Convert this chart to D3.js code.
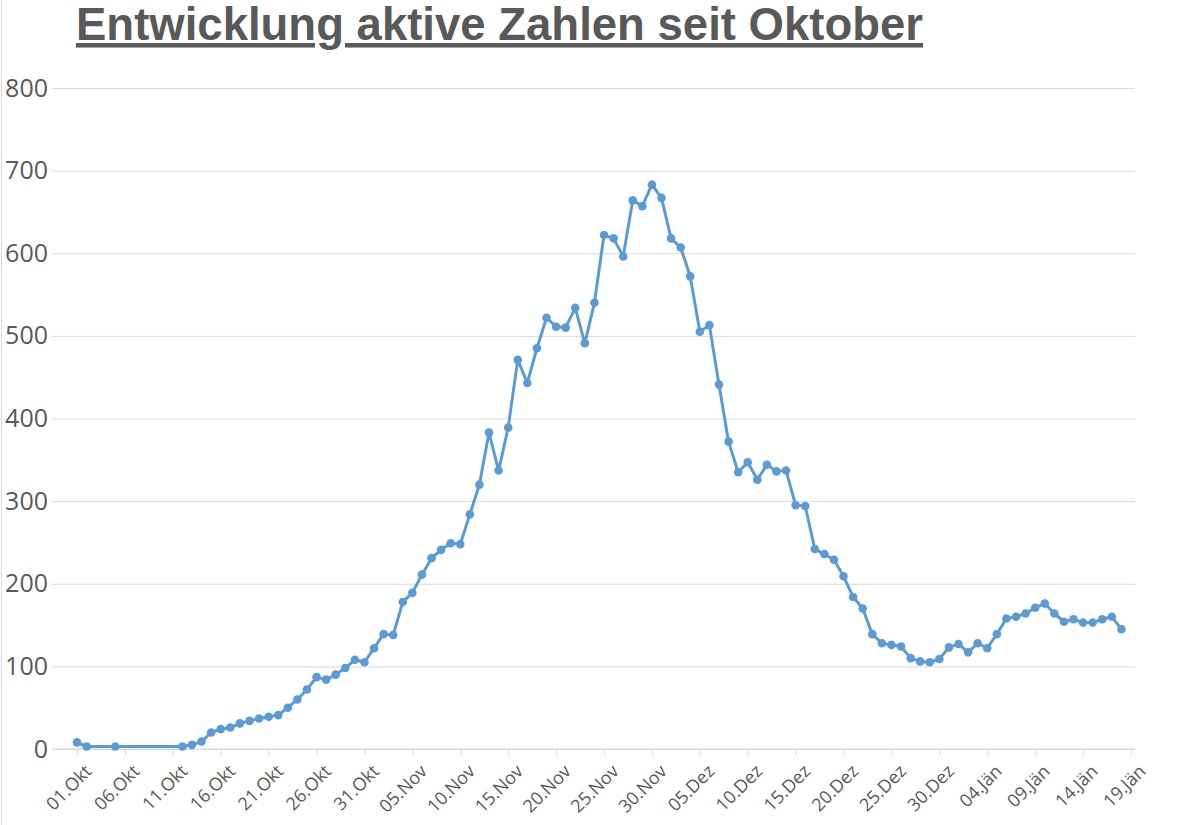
<!DOCTYPE html>
<html><head><meta charset="utf-8">
<script src="https://cdn.jsdelivr.net/npm/d3@7"></script>
<style>body{margin:0;background:#fff}</style></head>
<body><svg id="c" width="1200" height="825"></svg>
<script>
const titleText = "Entwicklung aktive Zahlen seit Oktober";
const days = [0,1,4].concat(d3.range(11,110));
const values = [8,3,3,
 3,5,9,20,24,26,31,34,37,39,41,50,60,72,87,84,90,98,108,105,122,139,138,178,189,211,231,241,249,248,
 284,320,383,337,389,471,443,485,522,511,510,534,491,540,622,618,596,664,657,683,
 667,618,607,572,505,513,441,372,335,347,326,344,336,337,295,294,242,236,229,209,
 184,170,139,128,126,124,110,106,105,109,123,127,117,128,122,139,158,160,164,171,
 176,164,154,157,153,153,157,160,145];
const tickLabels = ["01.Okt","06.Okt","11.Okt","16.Okt","21.Okt","26.Okt","31.Okt","05.Nov","10.Nov","15.Nov","20.Nov","25.Nov","30.Nov","05.Dez","10.Dez","15.Dez","20.Dez","25.Dez","30.Dez","04.Jän","09.Jän","14.Jän","19.Jän"];
const yTicks = [0,100,200,300,400,500,600,700,800];

const svg = d3.select("#c");
const x = d3.scaleLinear().domain([0,110]).range([77,1131]);
const y = d3.scaleLinear().domain([0,800]).range([749,88]);
const gray = "#595959";

svg.append("line").attr("x1",1.5).attr("x2",1.5).attr("y1",0).attr("y2",825).attr("stroke","#d9d9d9");

svg.append("text").attr("x",76).attr("y",40).attr("font-family","Liberation Sans, Arial, sans-serif")
  .attr("font-weight","bold").attr("font-size",45.5).attr("fill",gray).attr("text-decoration","underline")
  .text(titleText);

const yAxis = svg.append("g").attr("transform","translate(52,0)")
  .call(d3.axisLeft(y).tickValues(yTicks).tickSize(-1083).tickPadding(4));
yAxis.select(".domain").remove();
yAxis.selectAll(".tick line").attr("stroke","#d9d9d9").attr("stroke-width",1);
yAxis.selectAll(".tick text").attr("font-family","Open Sans, sans-serif").attr("font-size",25).attr("fill",gray).attr("x",-4);

const xAxis = svg.append("g").attr("transform","translate(0,749)")
  .call(d3.axisBottom(x).tickValues(d3.range(0,111,5)).tickFormat((d,i)=>tickLabels[i]).tickSize(6).tickSizeOuter(0));
xAxis.select(".domain").attr("stroke","#d9d9d9").attr("d","M52,0H1135");
xAxis.selectAll(".tick line").attr("stroke","#d9d9d9");
xAxis.selectAll(".tick text").attr("font-family","Open Sans, sans-serif").attr("font-size",18).attr("fill",gray)
  .attr("text-anchor","end").attr("dy",0).attr("transform","translate(9,17) rotate(-45)");

const pts = days.map((d,i)=>[d,values[i]]);
svg.append("path").datum(pts).attr("fill","none").attr("stroke","#5b9bd5").attr("stroke-width",3)
  .attr("stroke-linejoin","round").attr("d",d3.line().x(d=>x(d[0])).y(d=>y(d[1])));
svg.append("g").selectAll("circle").data(pts).join("circle")
  .attr("cx",d=>x(d[0])).attr("cy",d=>y(d[1])).attr("r",4.3).attr("fill","#5b9bd5");
</script></body></html>
